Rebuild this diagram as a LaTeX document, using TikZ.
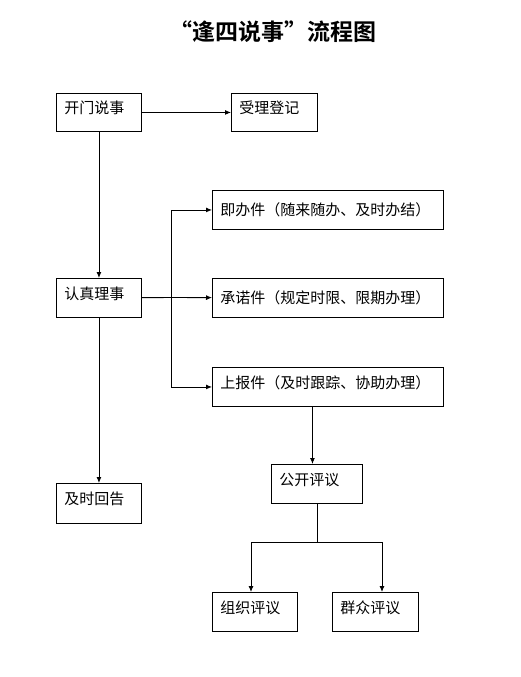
\documentclass[tikz,border=0pt]{standalone}
\usepackage{fontspec}
\setmainfont{Noto Sans CJK SC}[BoldFont={Noto Sans CJK SC Bold}]
\usetikzlibrary{arrows.meta}
\begin{document}
\begin{tikzpicture}[x=1pt,y=-1pt,
  box/.style={draw,line width=0.9pt,anchor=north west,inner xsep=8pt,inner ysep=0pt,
    align=left,font=\fontsize{15pt}{18pt}\selectfont,text height=12pt,text depth=9pt},
  widebox/.style={box,text height=13pt,text depth=2pt},
  arr/.style={line width=0.9pt,-{Latex[length=6pt,width=5pt]}},
  ln/.style={line width=0.9pt}]
\useasboundingbox (0,0) rectangle (521,677);
\node[font=\bfseries\fontsize{23pt}{26pt}\selectfont] (title) at (273,32) {“逢四说事”流程图};
% left column
\node[box,minimum width=85pt,minimum height=38pt,text width=69pt] (kmsm) at (56,93) {开门说事};
\node[box,minimum width=86pt,minimum height=38pt,text width=70pt] (slsj) at (231,93) {受理登记};
\node[box,minimum width=85pt,minimum height=39pt,text width=69pt] (rzls) at (56,278) {认真理事};
\node[box,minimum width=85pt,minimum height=40pt,text width=69pt] (jshg) at (56,483) {及时回告};
% three kinds of matters
\node[widebox,minimum width=231pt,minimum height=39pt,text width=215pt] (jbj) at (212,190) {即办件（随来随办、及时办结）};
\node[widebox,minimum width=231pt,minimum height=39pt,text width=215pt] (cnj) at (212,278) {承诺件（规定时限、限期办理）};
\node[box,minimum width=231pt,minimum height=39pt,text width=215pt] (sbj) at (212,367) {上报件（及时跟踪、协助办理）};
% review
\node[box,minimum width=91pt,minimum height=39pt,text width=75pt] (gkpy) at (271,464) {公开评议};
\node[box,minimum width=85pt,minimum height=39pt,text width=69pt] (zzpy) at (212,592) {组织评议};
\node[box,minimum width=86pt,minimum height=39pt,text width=70pt] (qzpy) at (332,592) {群众评议};
\coordinate (br) at (171,297.5);
\coordinate (fl) at (251,542);
\coordinate (fr) at (382,542);
\draw[arr] (kmsm) -- (slsj);
\draw[arr] (kmsm) -- (rzls);
\draw[arr] (rzls) -- (jshg);
\draw[ln] (rzls) -- (br);
\draw[arr] (br) |- (jbj);
\draw[arr] (br) -- (cnj);
\draw[arr] (br) |- (sbj);
\draw[arr] ([xshift=-4.5pt]gkpy.north |- sbj.south) -- ([xshift=-4.5pt]gkpy.north);
\draw[ln] (gkpy.south) -- (gkpy.south |- fl);
\draw[ln] (fl) -- (fr);
\draw[arr] (fl) -- (fl |- zzpy.north);
\draw[arr] (fr) -- (fr |- qzpy.north);
\end{tikzpicture}
\end{document}
